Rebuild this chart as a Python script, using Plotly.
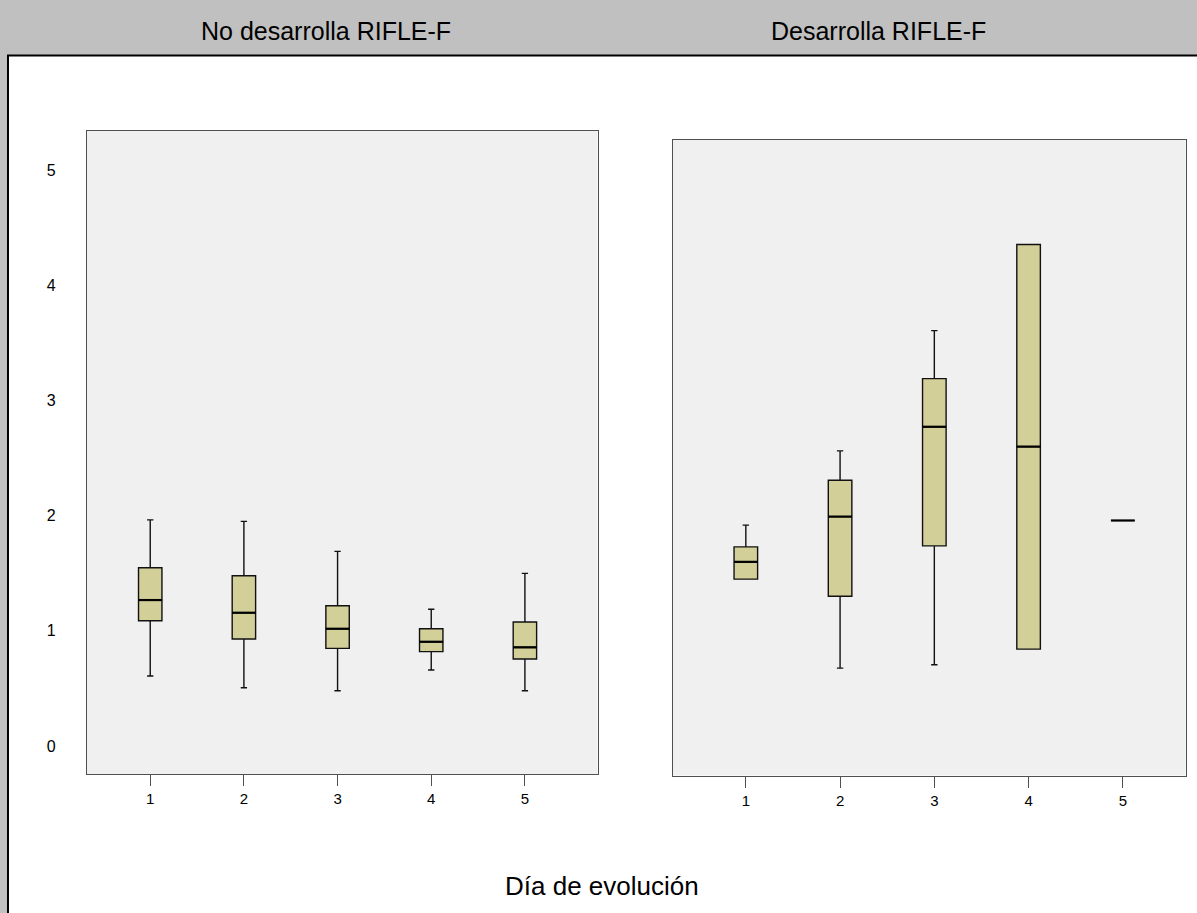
import plotly.graph_objects as go

W, H = 1197, 913

days = [1, 2, 3, 4, 5]
tick_labels = ["1", "2", "3", "4", "5"]
y_ticks = [0, 1, 2, 3, 4, 5]

panel_titles = ["No desarrolla RIFLE-F", "Desarrolla RIFLE-F"]
x_title = "Día de evolución"

# No desarrolla RIFLE-F
no_lower = [0.608, 0.506, 0.480, 0.660, 0.480]
no_q1 = [1.088, 0.929, 0.848, 0.819, 0.755]
no_median = [1.267, 1.157, 1.018, 0.905, 0.857]
no_q3 = [1.548, 1.478, 1.218, 1.018, 1.076]
no_upper = [1.963, 1.950, 1.690, 1.187, 1.499]

# Desarrolla RIFLE-F
si_lower = [1.447, 0.674, 0.703, 0.839, 1.956]
si_q1 = [1.447, 1.299, 1.736, 0.839, 1.956]
si_median = [1.597, 1.990, 2.770, 2.598, 1.956]
si_q3 = [1.727, 2.306, 3.188, 4.352, 1.956]
si_upper = [1.916, 2.561, 3.605, 4.352, 1.956]

BOX_FILL = "#d3cf99"
PLOT_BG = "#f0f0f0"
BAND = "#c0c0c0"
FONT = "Liberation Sans, Arial, sans-serif"


def px_x(p):
    return p / W


def px_y(p):
    return 1 - p / H


fig = go.Figure()

for (lo, q1, med, q3, up, xa, ya) in [
    (no_lower, no_q1, no_median, no_q3, no_upper, "x", "y"),
    (si_lower, si_q1, si_median, si_q3, si_upper, "x2", "y2"),
]:
    fig.add_trace(go.Box(
        x=days, q1=q1, median=med, q3=q3, lowerfence=lo, upperfence=up,
        xaxis=xa, yaxis=ya, width=0.25, whiskerwidth=0.27,
        fillcolor=BOX_FILL, line=dict(color="#111111", width=1.4),
        boxpoints=False, showlegend=False, hoverinfo="skip",
    ))
    fig.add_trace(go.Scatter(
        x=days, y=med, xaxis=xa, yaxis=ya, mode="markers",
        marker=dict(symbol="line-ew", size=17,
                    line=dict(color="#000000", width=2.2)),
        showlegend=False, hoverinfo="skip",
    ))

axis_common = dict(showgrid=False, zeroline=False, showline=True, mirror=True,
                   linecolor="#505050", linewidth=1.3)

fig.update_layout(
    width=W, height=H,
    margin=dict(l=0, r=0, t=0, b=0, pad=0),
    paper_bgcolor="white", plot_bgcolor=PLOT_BG,
    font=dict(family=FONT, color="#000000"),
    xaxis=dict(domain=[px_x(87), px_x(597.5)], range=[0.325, 5.775],
               tickmode="array", tickvals=days, ticktext=tick_labels,
               ticks="outside", ticklen=11, tickcolor="#505050",
               tickfont=dict(size=15), **axis_common),
    yaxis=dict(domain=[px_y(774), px_y(131)], range=[-0.243, 5.339],
               tickmode="array", tickvals=y_ticks,
               ticks="", ticklabelstandoff=27, tickfont=dict(size=16),
               **axis_common),
    xaxis2=dict(domain=[px_x(672.6), px_x(1185.5)], range=[0.223, 5.665],
                tickmode="array", tickvals=days, ticktext=tick_labels,
                ticks="outside", ticklen=11, tickcolor="#505050",
                tickfont=dict(size=15), anchor="y2", **axis_common),
    yaxis2=dict(domain=[px_y(775.5), px_y(140)], range=[-0.258, 5.26],
                showticklabels=False, ticks="", anchor="x2", **axis_common),
    shapes=[
        dict(type="rect", xref="paper", yref="paper", x0=0, x1=1,
             y0=px_y(55), y1=1, fillcolor=BAND, line=dict(width=0)),
        dict(type="rect", xref="paper", yref="paper", x0=0, x1=px_x(8),
             y0=0, y1=1, fillcolor=BAND, line=dict(width=0)),
        dict(type="line", xref="paper", yref="paper", x0=px_x(7), x1=1,
             y0=px_y(55.5), y1=px_y(55.5), line=dict(color="#000000", width=2)),
        dict(type="line", xref="paper", yref="paper", x0=px_x(8), x1=px_x(8),
             y0=0, y1=px_y(55), line=dict(color="#000000", width=2)),
    ],
    annotations=[
        dict(text=panel_titles[0], xref="paper", yref="paper",
             x=px_x(326), y=px_y(31), xanchor="center", yanchor="middle",
             showarrow=False, font=dict(size=25)),
        dict(text=panel_titles[1], xref="paper", yref="paper",
             x=px_x(878), y=px_y(31), xanchor="center", yanchor="middle",
             showarrow=False, font=dict(size=25)),
        dict(text=x_title, xref="paper", yref="paper",
             x=px_x(602), y=px_y(886), xanchor="center", yanchor="middle",
             showarrow=False, font=dict(size=26)),
    ],
)

fig.write_html(
    "out.html",
    config={"displayModeBar": False},
    post_script="document.body.style.margin='0';document.body.style.overflow='hidden';",
)
